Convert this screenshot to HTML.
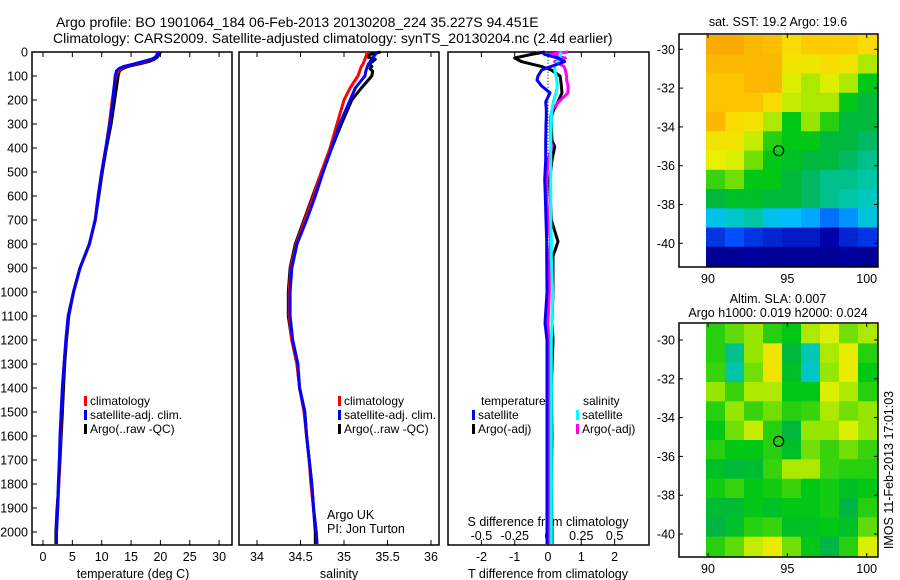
<!DOCTYPE html>
<html><head><meta charset="utf-8">
<style>
html,body{margin:0;padding:0;background:#fff;}
svg{display:block;font-family:"Liberation Sans",sans-serif;}
text{fill:#000;}
</style></head>
<body>
<svg id="fig" width="900" height="580" viewBox="0 0 900 580" xmlns="http://www.w3.org/2000/svg">
<text x="56" y="27" font-size="14">Argo profile: BO 1901064_184 06-Feb-2013 20130208_224 35.227S 94.451E</text>
<text x="53" y="43" font-size="14">Climatology: CARS2009. Satellite-adjusted climatology: synTS_20130204.nc (2.4d earlier)</text>
<text x="778" y="26" font-size="12.5" text-anchor="middle">sat. SST: 19.2 Argo: 19.6</text>
<text x="778" y="303" font-size="12.5" text-anchor="middle">Altim. SLA: 0.007</text>
<text x="778" y="317" font-size="12.5" text-anchor="middle">Argo h1000: 0.019 h2000: 0.024</text>
<text transform="translate(893,470) rotate(-90)" font-size="12.5" text-anchor="middle">IMOS 11-Feb-2013 17:01:03</text>
<g id="g"></g>
</svg>
<script>
// ---- profile data ----
const depths = [0,10,20,30,40,50,60,70,80,100,150,200,300,400,500,600,700,800,900,1000,1100,1200,1300,1400,1500,1600,1700,1800,1900,2000,2050];
const tempSat = [19.6,19.5,19.3,18.5,17,15.5,13.8,12.9,12.5,12.3,12.1,11.9,11.4,10.7,10.0,9.4,8.9,7.9,6.3,5.2,4.3,3.9,3.6,3.3,3.1,2.9,2.8,2.6,2.5,2.3,2.3];
const tempClim = [19.5,19.4,19.2,18.6,17.3,15.8,14,13.2,12.8,12.4,12.1,11.8,11.3,10.7,10,9.4,8.9,7.9,6.3,5.2,4.3,3.9,3.6,3.3,3.1,3.0,2.8,2.7,2.5,2.3,2.3];
const tempArgo = [20,19.8,19.5,19,18,16.3,14.5,13.5,13,12.8,12.5,12.2,11.6,10.8,10.1,9.5,8.9,7.9,6.3,5.2,4.4,4.0,3.7,3.5,3.3,3.1,2.9,2.7,2.4,2.2,2.2];
const salSat = [35.38,35.36,35.34,35.32,35.3,35.29,35.27,35.26,35.25,35.24,35.13,35.07,34.95,34.86,34.76,34.67,34.57,34.46,34.40,34.38,34.38,34.41,34.47,34.49,34.55,34.57,34.6,34.63,34.65,34.68,34.69];
const salClim = [35.27,35.26,35.25,35.24,35.23,35.22,35.2,35.19,35.18,35.16,35.07,35.0,34.92,34.84,34.74,34.65,34.55,34.45,34.39,34.37,34.37,34.40,34.46,34.49,34.54,34.57,34.6,34.62,34.65,34.68,34.69];
const salArgo = [35.42,35.3,35.26,35.36,35.33,35.28,35.32,35.3,35.33,35.32,35.2,35.09,34.97,34.86,34.74,34.64,34.54,34.44,34.38,34.36,34.36,34.40,34.46,34.49,34.55,34.57,34.6,34.63,34.65,34.67,34.67];
const diffDepths = [0,10,25,40,60,75,100,117,140,170,208,240,270,300,370,395,450,533,600,700,790,850,1000,1130,1200,1400,1600,1800,2000,2050];
const dTSat = [-0.19,-0.1,0.3,0.5,0.1,-0.19,-0.3,-0.33,-0.2,0.06,-0.07,-0.05,-0.05,-0.06,-0.07,-0.07,-0.07,-0.1,-0.08,-0.06,-0.04,-0.04,-0.03,-0.09,-0.03,-0.03,-0.03,-0.03,-0.03,-0.03];
const dTArgo = [-0.1,-0.5,-1.0,-0.8,-0.2,0.1,0.36,0.38,0.4,0.42,0.3,0.17,0.1,0.1,0.12,0.2,0.12,0.05,0.07,0.1,0.3,0.15,0.15,0.12,0.15,0.1,0.12,0.1,0.12,0.12];
const dSSat = [0.1,0.09,0.09,0.07,0.05,0.05,0.06,0.065,0.07,0.06,0.04,0.03,0.025,0.025,0.02,0.02,0.02,0.02,0.02,0.02,0.025,0.025,0.035,0.03,0.025,0.025,0.025,0.025,0.025,0.025];
const dSArgo = [0.15,0.0,0.13,0.05,0.12,0.13,0.14,0.14,0.15,0.15,0.08,0.03,0.02,0.02,0.02,0.03,0.0,-0.01,-0.01,0.0,0.02,0.01,0.01,0.0,0.005,0.005,0.005,0.005,0.005,0.005];
const depthTicks = [0,100,200,300,400,500,600,700,800,900,1000,1100,1200,1300,1400,1500,1600,1700,1800,1900,2000];
const tempTicks = [0,5,10,15,20,25,30];
const salTicks = [34,34.5,35,35.5,36];
const salTickLabels = ["34","34.5","35","35.5","36"];
const tDiffTicks = [-2,-1,0,1,2];
const sDiffTicks = [-0.5,-0.25,0,0.25,0.5];
const sDiffLabels = ["-0.5","-0.25","0","0.25","0.5"];
// ---- map data (coarse grids, value 0..1 on jet-like scale) ----
const mapLonTicks = [90,95,100];
const mapLatTicks = [-30,-32,-34,-36,-38,-40];
const sstGrid = [
[0.88,0.88,0.86,0.85,0.8,0.83,0.83,0.83,0.8],
[0.86,0.86,0.86,0.86,0.78,0.77,0.8,0.78,0.7],
[0.84,0.84,0.86,0.86,0.74,0.7,0.74,0.7,0.6],
[0.84,0.84,0.84,0.8,0.72,0.7,0.7,0.6,0.56],
[0.86,0.8,0.78,0.7,0.6,0.68,0.62,0.56,0.56],
[0.78,0.78,0.72,0.62,0.6,0.6,0.56,0.56,0.53],
[0.75,0.74,0.66,0.6,0.58,0.56,0.56,0.53,0.5],
[0.63,0.66,0.6,0.6,0.56,0.53,0.5,0.5,0.48],
[0.56,0.58,0.58,0.56,0.56,0.53,0.5,0.48,0.46],
[0.42,0.45,0.48,0.42,0.4,0.38,0.33,0.36,0.43],
[0.25,0.3,0.25,0.22,0.2,0.2,0.15,0.22,0.25],
[0.1,0.1,0.12,0.1,0.1,0.1,0.1,0.12,0.1]];
const slaGrid = [
[0.62,0.65,0.68,0.62,0.6,0.7,0.74,0.66,0.7],
[0.62,0.5,0.68,0.78,0.56,0.47,0.7,0.76,0.62],
[0.63,0.48,0.66,0.78,0.58,0.45,0.68,0.76,0.6],
[0.68,0.63,0.7,0.7,0.6,0.6,0.74,0.7,0.62],
[0.62,0.68,0.63,0.66,0.62,0.63,0.7,0.66,0.68],
[0.6,0.66,0.72,0.62,0.56,0.68,0.68,0.74,0.68],
[0.62,0.6,0.6,0.62,0.58,0.66,0.63,0.66,0.63],
[0.58,0.56,0.57,0.63,0.7,0.7,0.63,0.62,0.62],
[0.61,0.63,0.6,0.61,0.63,0.6,0.61,0.58,0.6],
[0.57,0.57,0.6,0.58,0.6,0.6,0.61,0.55,0.62],
[0.55,0.58,0.62,0.63,0.58,0.58,0.6,0.58,0.65],
[0.62,0.65,0.72,0.76,0.66,0.6,0.55,0.62,0.74]];
const argoLon = 94.451, argoLat = -35.227;

const NS="http://www.w3.org/2000/svg";
const G=document.getElementById('g');
function el(tag,attrs,parent){const e=document.createElementNS(NS,tag);for(const k in attrs)e.setAttribute(k,attrs[k]);(parent||G).appendChild(e);return e;}
function txt(x,y,s,size,anchor,parent){const t=el('text',{x:x,y:y,'font-size':size,'text-anchor':anchor||'start'},parent);t.textContent=s;return t;}

const yD = d => 52 + 0.24*d;
const PTOP=52, PBOT=545;
const xT = v => 43 + v*5.87;
const xS = v => 257 + (v-34)*87;
const xDT = v => 548 + v*33.3;
const xDS = v => 548 + v*133.2;

function frame(x0,x1,name){
  const r=el('rect',{x:x0,y:PTOP,width:x1-x0,height:PBOT-PTOP,fill:'none',stroke:'#000','stroke-width':1.5});
  
  
}
function xticks(vals,fx,labels,name){
  const g=el('g',{});
  
  
  vals.forEach((v,i)=>{const x=fx(v);
    el('line',{x1:x,x2:x,y1:PTOP,y2:PTOP+5,stroke:'#000'},g);
    el('line',{x1:x,x2:x,y1:PBOT,y2:PBOT-5,stroke:'#000'},g);
    if(labels) txt(x,561,labels[i],12.5,'middle',g);});
}
function line(xs,ds,fx,color,name){
  const pts=xs.map((v,i)=>fx(v).toFixed(1)+','+yD(ds[i]).toFixed(1)).join(' ');
  const p=el('polyline',{points:pts,fill:'none',stroke:color,'stroke-width':3,'stroke-linejoin':'round'});
  
  
}
function legend(x,y,items,name){
  const g=el('g',{});
  
  
  items.forEach((it,i)=>{const yy=y+i*14;
    el('rect',{x:x,y:yy-9,width:3,height:10,fill:it[0]},g);
    txt(x+6,yy,it[1],12,'start',g);});
}

// Panel 1
frame(32,232,'temperature-panel');
const yt=el('g',{});


depthTicks.forEach(d=>{const y=yD(d);el('line',{x1:32,x2:37,y1:y,y2:y,stroke:'#000'},yt);txt(28,y+4.5,String(d),12.5,'end',yt);});
xticks(tempTicks,xT,tempTicks.map(String),'temperature-axis');
txt(133,578,'temperature (deg C)',12.5,'middle');
line(tempArgo,depths,xT,'#000','temp-argo-line');
line(tempClim,depths,xT,'#f00','temp-climatology-line');
line(tempSat,depths,xT,'#00f','temp-satellite-line');
legend(84,405,[['#f00','climatology'],['#00f','satellite-adj. clim.'],['#000','Argo(..raw -QC)']],'temperature-legend');

// Panel 2
frame(239,439,'salinity-panel');
xticks(salTicks,xS,salTickLabels,'salinity-axis');
txt(339,578,'salinity',12.5,'middle');
line(salArgo,depths,xS,'#000','sal-argo-line');
line(salClim,depths,xS,'#f00','sal-climatology-line');
line(salSat,depths,xS,'#00f','sal-satellite-line');
legend(338,405,[['#f00','climatology'],['#00f','satellite-adj. clim.'],['#000','Argo(..raw -QC)']],'salinity-legend');
txt(327,519,'Argo UK',12.5);
txt(327,533,'PI: Jon Turton',12.5);

// Panel 3
frame(448,649,'difference-panel');
xticks(tDiffTicks,xDT,tDiffTicks.map(String),'t-diff-axis');
txt(548,578,'T difference from climatology',12.5,'middle');
const sl=el('g',{});


sDiffTicks.forEach((v,i)=>txt(xDS(v),540,sDiffLabels[i],12.5,'middle',sl));
txt(548,526,'S difference from climatology',12.5,'middle');
el('line',{x1:548,x2:548,y1:yD(20),y2:yD(900),stroke:'#000','stroke-dasharray':'1,2'});
line(dTArgo,diffDepths,xDT,'#000','t-diff-argo-line');
line(dSArgo,diffDepths,xDS,'#f0f','s-diff-argo-line');
line(dSSat,diffDepths,xDS,'#0ff','s-diff-satellite-line');
line(dTSat,diffDepths,xDT,'#00f','t-diff-satellite-line');
txt(481,405,'temperature',12);
legend(472,419,[['#00f','satellite'],['#000','Argo(-adj)']],'t-diff-legend');
txt(583,405,'salinity',12);
legend(576,419,[['#0ff','satellite'],['#f0f','Argo(-adj)']],'s-diff-legend');

// ---- maps ----
function jet(v){
  const stops=[[0,[0,0,110]],[0.15,[0,0,170]],[0.3,[0,80,255]],[0.4,[0,190,255]],[0.47,[0,200,180]],[0.55,[0,180,70]],[0.6,[0,200,20]],[0.68,[150,230,0]],[0.75,[230,240,0]],[0.82,[255,210,0]],[0.88,[250,170,0]],[0.95,[235,120,0]],[1,[200,60,0]]];
  for(let i=1;i<stops.length;i++){if(v<=stops[i][0]){const a=stops[i-1],b=stops[i];const t=(v-a[0])/(b[0]-a[0]);
    return 'rgb('+a[1].map((c,k)=>Math.round(c+(b[1][k]-c)*t)).join(',')+')';}}
  return 'rgb(200,60,0)';
}
function map(top,bot,lat30y,lat40y,grid,name){
  const g=el('g',{});
  
  
  const x0=706,x1=877,y0=top+1,y1=bot-1;
  const rows=grid.length,cols=grid[0].length;
  const cw=(x1-x0)/cols,ch=(y1-y0)/rows;
  grid.forEach((row,r)=>row.forEach((v,c)=>{
    const cell=el('rect',{x:(x0+c*cw).toFixed(2),y:(y0+r*ch).toFixed(2),width:(cw+0.6).toFixed(2),height:(ch+0.6).toFixed(2),fill:jet(v)},g);
    
    
  }));
  el('rect',{x:679,y:top,width:199,height:bot-top,fill:'none',stroke:'#000','stroke-width':1.5},g);
  const lonX=l=>708+(l-90)*15.87;
  const latY=l=>lat30y+(-30-l)*(lat40y-lat30y)/10;
  mapLonTicks.forEach(l=>{const x=lonX(l);el('line',{x1:x,x2:x,y1:bot,y2:bot-4,stroke:'#000'},g);el('line',{x1:x,x2:x,y1:top,y2:top+4,stroke:'#000'},g);txt(x,bot+16,String(l),12.5,'middle',g);});
  mapLatTicks.forEach(l=>{const y=latY(l);el('line',{x1:679,x2:683,y1:y,y2:y,stroke:'#000'},g);el('line',{x1:878,x2:874,y1:y,y2:y,stroke:'#000'},g);txt(675,y+4.5,String(l),12.5,'end',g);});
  const c=el('circle',{cx:lonX(argoLon),cy:latY(argoLat),r:5,fill:'none',stroke:'#000','stroke-width':1.2},g);
  
  
}
map(34,267,49.3,243.3,sstGrid,'sst-map');
map(323,557,340,534,slaGrid,'sla-map');
</script>
</body></html>
